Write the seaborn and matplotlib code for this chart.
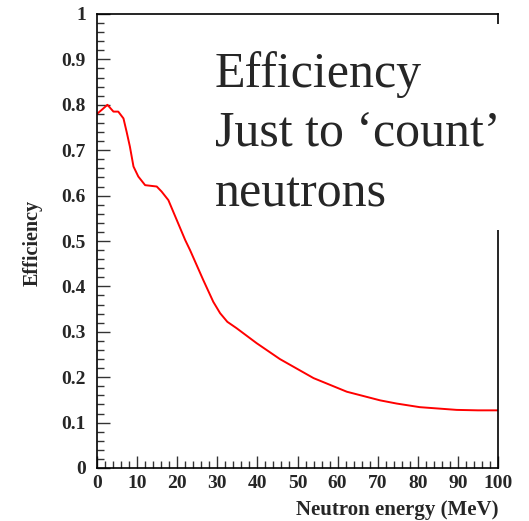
import matplotlib
matplotlib.use("Agg")
import matplotlib.pyplot as plt
import seaborn as sns
import pandas as pd
from matplotlib.patches import Rectangle
from matplotlib.ticker import MultipleLocator

energy = [0, 1.2, 2.6, 4.1, 5.3, 6.6, 7.4, 8.2, 9.1, 10.3, 12, 14.9, 16.1, 17.8,
          19.9, 22, 23.2, 26.5, 29, 30.7, 32.5, 34.8, 39.8, 45.6, 54, 62.3, 70.6,
          74.7, 80.5, 89.7, 95, 100]
efficiency = [0.78, 0.789, 0.80, 0.785, 0.785, 0.77, 0.74, 0.708, 0.664, 0.642,
              0.623, 0.62, 0.609, 0.59, 0.546, 0.502, 0.48, 0.414, 0.366, 0.341,
              0.322, 0.308, 0.275, 0.24, 0.198, 0.168, 0.149, 0.142, 0.134, 0.128,
              0.127, 0.127]
xlabel = "Neutron energy (MeV)"
ylabel = "Efficiency"
note_lines = ["Efficiency", "Just to \u2018count\u2019", "neutrons"]

df = pd.DataFrame({"E": energy, "eff": efficiency})

sns.set_style("ticks")
plt.rcParams["font.family"] = ["Liberation Serif", "DejaVu Serif"]

W, H = 529, 521
fig = plt.figure(figsize=(W / 100, H / 100), dpi=100)
ax = fig.add_axes([97 / W, (H - 468) / H, 401 / W, 454 / H])

sns.lineplot(data=df, x="E", y="eff", ax=ax, color="red", linewidth=1.4)

ax.set_xlim(0, 100)
ax.set_ylim(0, 1)
ax.xaxis.set_major_locator(MultipleLocator(10))
ax.xaxis.set_minor_locator(MultipleLocator(2))
ax.yaxis.set_major_locator(MultipleLocator(0.1))
ax.yaxis.set_minor_locator(MultipleLocator(0.02))
ax.set_xticks([0, 10, 20, 30, 40, 50, 60, 70, 80, 90, 100])
ax.set_xticklabels(["0", "10", "20", "30", "40", "50", "60", "70", "80", "90", "100"])
ax.set_yticks([0, 0.1, 0.2, 0.3, 0.4, 0.5, 0.6, 0.7, 0.8, 0.9, 1.0])
ax.set_yticklabels(["0", "0.1", "0.2", "0.3", "0.4", "0.5", "0.6", "0.7", "0.8", "0.9", "1"])
ax.tick_params(axis="both", which="major", direction="in", length=9, width=1.0,
               labelsize=14, color="#333333")
ax.tick_params(axis="both", which="minor", direction="in", length=5, width=1.0,
               color="#333333")
ax.tick_params(axis="y", pad=8)
ax.tick_params(axis="x", pad=5)
for lab in ax.get_xticklabels() + ax.get_yticklabels():
    lab.set_fontweight("bold")
for s in ax.spines.values():
    s.set_visible(True)
    s.set_linewidth(1.2)
    s.set_color("black")

ax.set_xlabel("")
ax.set_ylabel("")
fig.text(498 / W, 1 - 510 / H, xlabel, ha="right", va="center",
         fontsize=15, fontweight="bold")
fig.text(33 / W, 1 - 243 / H, ylabel, ha="center", va="center", rotation=90,
         fontsize=14.5, fontweight="bold")

# white box covering the upper right part of the frame
fig.patches.append(Rectangle((205 / W, 1 - 230 / H), (W - 205) / W, (230 - 24) / H,
                             transform=fig.transFigure, facecolor="white",
                             edgecolor="none", zorder=5))
for line, base in zip(note_lines, [87, 146, 207]):
    fig.text(215 / W, 1 - base / H, line, ha="left", va="baseline",
             fontsize=36, zorder=6)

fig.savefig("out.png", dpi=100)
